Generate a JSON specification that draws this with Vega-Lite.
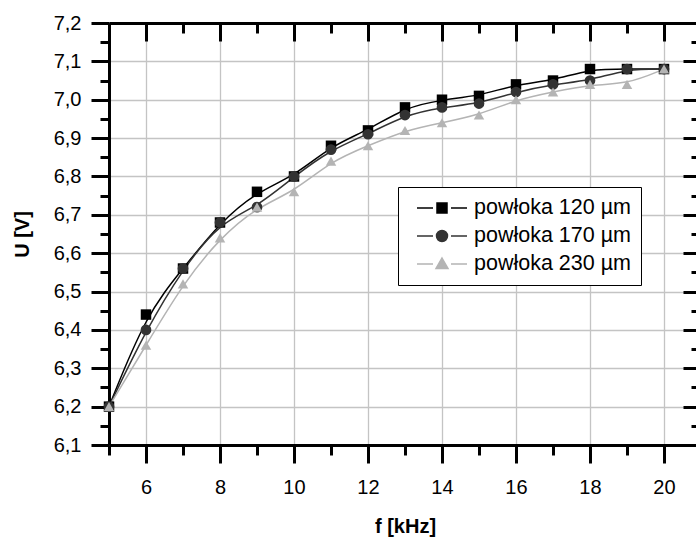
{
  "$schema": "https://vega.github.io/schema/vega-lite/v6.json",
  "width": 587,
  "height": 422,
  "autosize": {"type": "none"},
  "padding": {"left": 109, "top": 23, "right": 0, "bottom": 93},
  "background": "white",
  "config": {
    "view": {"stroke": null},
    "font": "Liberation Sans",
    "axis": {
      "domainColor": "black",
      "domainWidth": 3,
      "tickColor": "black",
      "tickWidth": 3,
      "labelColor": "black",
      "labelFont": "Liberation Sans",
      "labelFontSize": 20,
      "titleFont": "Liberation Sans",
      "titleFontSize": 20,
      "titleFontWeight": "bold",
      "titleColor": "black",
      "labelOverlap": false,
      "labelFlush": false,
      "gridColor": "#c4c4c4",
      "gridWidth": 1.3
    },
    "legend": {
      "orient": "none",
      "legendX": 289,
      "legendY": 164,
      "labelFont": "Liberation Sans",
      "labelFontSize": 21.5,
      "labelColor": "black",
      "symbolSize": 400,
      "symbolStrokeWidth": 1.5,
      "symbolOffset": 23,
      "labelOffset": 21,
      "padding": 10,
      "rowPadding": 6,
      "strokeColor": "black",
      "fillColor": "white",
      "symbolOpacity": 1
    }
  },
  "data": {
    "values": [
      {"f": 5, "U": 6.20, "s": "powłoka 120 µm"},
      {"f": 6, "U": 6.44, "s": "powłoka 120 µm"},
      {"f": 7, "U": 6.56, "s": "powłoka 120 µm"},
      {"f": 8, "U": 6.68, "s": "powłoka 120 µm"},
      {"f": 9, "U": 6.76, "s": "powłoka 120 µm"},
      {"f": 10, "U": 6.80, "s": "powłoka 120 µm"},
      {"f": 11, "U": 6.88, "s": "powłoka 120 µm"},
      {"f": 12, "U": 6.92, "s": "powłoka 120 µm"},
      {"f": 13, "U": 6.98, "s": "powłoka 120 µm"},
      {"f": 14, "U": 7.00, "s": "powłoka 120 µm"},
      {"f": 15, "U": 7.01, "s": "powłoka 120 µm"},
      {"f": 16, "U": 7.04, "s": "powłoka 120 µm"},
      {"f": 17, "U": 7.05, "s": "powłoka 120 µm"},
      {"f": 18, "U": 7.08, "s": "powłoka 120 µm"},
      {"f": 19, "U": 7.08, "s": "powłoka 120 µm"},
      {"f": 20, "U": 7.08, "s": "powłoka 120 µm"},
      {"f": 5, "U": 6.20, "s": "powłoka 170 µm"},
      {"f": 6, "U": 6.40, "s": "powłoka 170 µm"},
      {"f": 7, "U": 6.56, "s": "powłoka 170 µm"},
      {"f": 8, "U": 6.68, "s": "powłoka 170 µm"},
      {"f": 9, "U": 6.72, "s": "powłoka 170 µm"},
      {"f": 10, "U": 6.80, "s": "powłoka 170 µm"},
      {"f": 11, "U": 6.87, "s": "powłoka 170 µm"},
      {"f": 12, "U": 6.91, "s": "powłoka 170 µm"},
      {"f": 13, "U": 6.96, "s": "powłoka 170 µm"},
      {"f": 14, "U": 6.98, "s": "powłoka 170 µm"},
      {"f": 15, "U": 6.99, "s": "powłoka 170 µm"},
      {"f": 16, "U": 7.02, "s": "powłoka 170 µm"},
      {"f": 17, "U": 7.04, "s": "powłoka 170 µm"},
      {"f": 18, "U": 7.05, "s": "powłoka 170 µm"},
      {"f": 19, "U": 7.08, "s": "powłoka 170 µm"},
      {"f": 20, "U": 7.08, "s": "powłoka 170 µm"},
      {"f": 5, "U": 6.20, "s": "powłoka 230 µm"},
      {"f": 6, "U": 6.36, "s": "powłoka 230 µm"},
      {"f": 7, "U": 6.52, "s": "powłoka 230 µm"},
      {"f": 8, "U": 6.64, "s": "powłoka 230 µm"},
      {"f": 9, "U": 6.72, "s": "powłoka 230 µm"},
      {"f": 10, "U": 6.76, "s": "powłoka 230 µm"},
      {"f": 11, "U": 6.84, "s": "powłoka 230 µm"},
      {"f": 12, "U": 6.88, "s": "powłoka 230 µm"},
      {"f": 13, "U": 6.92, "s": "powłoka 230 µm"},
      {"f": 14, "U": 6.94, "s": "powłoka 230 µm"},
      {"f": 15, "U": 6.96, "s": "powłoka 230 µm"},
      {"f": 16, "U": 7.00, "s": "powłoka 230 µm"},
      {"f": 17, "U": 7.02, "s": "powłoka 230 µm"},
      {"f": 18, "U": 7.04, "s": "powłoka 230 µm"},
      {"f": 19, "U": 7.04, "s": "powłoka 230 µm"},
      {"f": 20, "U": 7.08, "s": "powłoka 230 µm"}
    ]
  },
  "layer": [
    {
      "mark": {"type": "line", "interpolate": "basis", "strokeWidth": 1.5},
      "encoding": {
        "x": {
          "field": "f", "type": "quantitative",
          "scale": {"domain": [5, 20.865], "nice": false, "zero": false},
          "axis": {
            "orient": "bottom",
            "values": [5, 6, 7, 8, 9, 10, 11, 12, 13, 14, 15, 16, 17, 18, 19, 20],
            "labelExpr": "datum.value % 2 == 0 ? datum.label : ''",
            "tickSize": {"condition": {"test": "datum.value % 2 == 0", "value": 18}, "value": 10},
            "labelPadding": 14,
            "grid": true,
            "gridOpacity": {"condition": {"test": "datum.value % 2 == 0", "value": 1}, "value": 0},
            "title": "f [kHz]",
            "titleX": 296,
            "titleY": 81,
            "titleBaseline": "middle",
            "titleAlign": "center"
          }
        },
        "y": {
          "field": "U", "type": "quantitative",
          "scale": {"domain": [6.1, 7.2], "nice": false, "zero": false},
          "axis": {
            "orient": "left",
            "values": [6.1, 6.15, 6.2, 6.25, 6.3, 6.35, 6.4, 6.45, 6.5, 6.55, 6.6, 6.65, 6.7, 6.75, 6.8, 6.85, 6.9, 6.95, 7.0, 7.05, 7.1, 7.15, 7.2],
            "labelExpr": "round(datum.value*20) % 2 == 0 ? replace(format(datum.value, '.1f'), '.', ',') : ''",
            "tickSize": {"condition": {"test": "round(datum.value*20) % 2 == 0", "value": 18}, "value": 9},
            "labelPadding": 10,
            "grid": true,
            "gridOpacity": {"condition": {"test": "round(datum.value*20) % 2 == 0", "value": 1}, "value": 0},
            "title": "U [V]",
            "titleAngle": -90,
            "titleX": -87,
            "titleY": 211,
            "titleBaseline": "middle",
            "titleAlign": "center"
          }
        },
        "color": {
          "field": "s", "type": "nominal",
          "scale": {"domain": ["powłoka 120 µm", "powłoka 170 µm", "powłoka 230 µm"], "range": ["#000000", "#333333", "#b4b4b4"]},
          "legend": {"title": null}
        }
      }
    },
    {
      "transform": [{"filter": "indexof(datum.s, '120') >= 0"}],
      "mark": {"type": "point", "shape": "square", "filled": true, "opacity": 1, "size": 110},
      "encoding": {
        "x": {
          "field": "f", "type": "quantitative",
          "axis": {
            "orient": "top",
            "values": [5, 6, 7, 8, 9, 10, 11, 12, 13, 14, 15, 16, 17, 18, 19, 20],
            "labels": false,
            "tickSize": {"condition": {"test": "datum.value % 2 == 0", "value": -18}, "value": -10},
            "grid": false,
            "title": null
          }
        },
        "y": {
          "field": "U", "type": "quantitative",
          "axis": {
            "orient": "right",
            "offset": 5,
            "values": [6.1, 6.15, 6.2, 6.25, 6.3, 6.35, 6.4, 6.45, 6.5, 6.55, 6.6, 6.65, 6.7, 6.75, 6.8, 6.85, 6.9, 6.95, 7.0, 7.05, 7.1, 7.15, 7.2],
            "labels": false,
            "tickSize": {"condition": {"test": "round(datum.value*20) % 2 == 0", "value": -18}, "value": -10},
            "grid": false,
            "title": null
          }
        },
        "color": {"field": "s", "type": "nominal", "legend": null}
      }
    },
    {
      "transform": [{"filter": "indexof(datum.s, '170') >= 0"}],
      "mark": {"type": "point", "shape": "circle", "filled": true, "opacity": 1, "size": 115},
      "encoding": {
        "x": {"field": "f", "type": "quantitative", "axis": null},
        "y": {"field": "U", "type": "quantitative", "axis": null},
        "color": {"field": "s", "type": "nominal", "legend": null}
      }
    },
    {
      "transform": [{"filter": "indexof(datum.s, '230') >= 0"}],
      "mark": {"type": "point", "shape": "triangle-up", "filled": true, "opacity": 1, "size": 110},
      "encoding": {
        "x": {"field": "f", "type": "quantitative", "axis": null},
        "y": {"field": "U", "type": "quantitative", "axis": null},
        "color": {"field": "s", "type": "nominal", "legend": null}
      }
    },
    {
      "transform": [{"filter": "datum.f > 100"}],
      "mark": {"type": "point", "filled": true, "opacity": 1},
      "encoding": {
        "x": {"field": "f", "type": "quantitative", "axis": null},
        "y": {"field": "U", "type": "quantitative", "axis": null},
        "shape": {
          "field": "s", "type": "nominal",
          "scale": {"domain": ["powłoka 120 µm", "powłoka 170 µm", "powłoka 230 µm"], "range": [
            "M-2.5,0H-0.9M0.9,0H2.5M-0.5,-0.5H0.5V0.5H-0.5Z",
            "M-2.5,0H-0.9M0.9,0H2.5M0.55,0A0.55,0.55,0,1,1,-0.55,0A0.55,0.55,0,1,1,0.55,0Z",
            "M-2.5,0H-0.9M0.9,0H2.5M0,-0.6L0.6,0.45L-0.6,0.45Z"
          ]},
          "legend": null
        },
        "color": {"field": "s", "type": "nominal", "legend": null}
      }
    }
  ],
  "resolve": {
    "axis": {"x": "independent", "y": "independent"}
  }
}
